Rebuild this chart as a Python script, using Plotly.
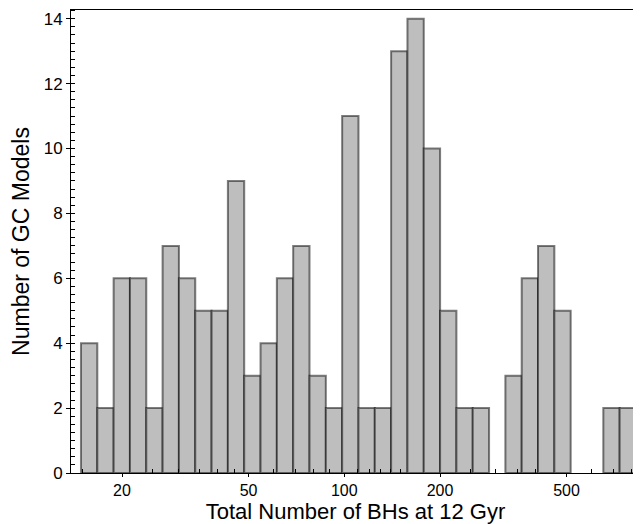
import numpy as np
import plotly.graph_objects as go

# Histogram data (log-spaced bins)
log_lo = 1.1720
log_hi = 2.9173
counts = [4, 2, 6, 6, 2, 7, 6, 5, 5, 9, 3, 4, 6, 7, 3, 2, 11,
          2, 2, 13, 14, 10, 5, 2, 2, 0, 3, 6, 7, 5, 0, 0, 2, 2]
edges = np.logspace(log_lo, log_hi, len(counts) + 1)

x_tickvals = [20, 50, 100, 200, 500]
x_ticktext = ["20", "50", "100", "200", "500"]
x_minor = [15, 25, 30, 35, 40, 45, 60, 70, 80, 90, 110, 120, 130, 140, 150,
           250, 300, 350, 400, 600, 700, 800]
y_tickvals = [0, 2, 4, 6, 8, 10, 12, 14]

fig = go.Figure()
for i, c in enumerate(counts):
    if c == 0:
        continue
    x0, x1 = edges[i], edges[i + 1]
    fig.add_trace(go.Scatter(
        x=[x0, x0, x1, x1, x0], y=[0, c, c, 0, 0],
        mode="lines", fill="toself", fillcolor="#bebebe",
        line=dict(color="rgba(0,0,0,0.5)", width=2),
        hoverinfo="skip", showlegend=False))

font = dict(family="Liberation Sans, Arial, sans-serif", size=18, color="black")

# page body has an 8px margin, so the figure is sized/positioned to compensate
fig.update_layout(
    width=633, height=516,
    margin=dict(l=63, r=1, t=2, b=51),
    plot_bgcolor="white", paper_bgcolor="white",
    font=font,
    showlegend=False,
)
fig.update_xaxes(
    type="log", range=[1.1406, 2.9300], automargin=False,
    showgrid=False, zeroline=False,
    showline=True, linecolor="black", linewidth=1, mirror=True,
    tickmode="array", tickvals=x_tickvals, ticktext=x_ticktext,
    ticks="outside", ticklen=3, tickcolor="black",
    tickfont=dict(size=16),
    minor=dict(tickmode="array", tickvals=x_minor, ticks="inside",
               ticklen=4, tickcolor="black", showgrid=False),
    title=dict(text="Total Number of BHs at 12 Gyr", font=dict(size=22), standoff=3),
)
fig.update_yaxes(
    range=[0, 14.27], automargin=False,
    showgrid=False, zeroline=False,
    showline=True, linecolor="black", linewidth=1, mirror=False,
    tickmode="array", tickvals=y_tickvals,
    ticks="outside", ticklen=4, tickcolor="black",
    tickfont=dict(size=17),
    minor=dict(dtick=0.25, ticks="inside", ticklen=4, tickcolor="black", showgrid=False),
    title=dict(text="Number of GC Models", font=dict(size=23), standoff=8),
)

fig.write_html("out.html")
